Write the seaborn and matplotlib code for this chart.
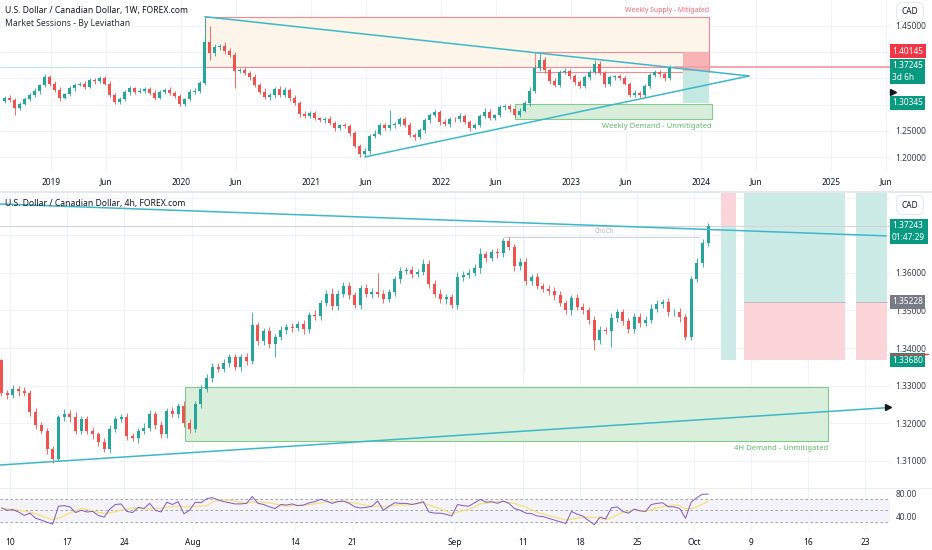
import numpy as np
import pandas as pd
import seaborn as sns
import matplotlib
matplotlib.use("Agg")
import matplotlib.pyplot as plt
import matplotlib.transforms as mtransforms
from matplotlib.patches import Rectangle

# ---------------- data ----------------
# weekly panel: one candle per two weeks, first candle mid Aug 2018 (x in years)
w_first = 2018.645
w_open0 = 1.307
w_close = [1.313, 1.309, 1.294, 1.302, 1.311, 1.318, 1.326, 1.337, 1.352, 1.340,
           1.329, 1.313, 1.320, 1.331, 1.338, 1.340, 1.334, 1.347, 1.345, 1.350,
           1.340, 1.319, 1.306, 1.311, 1.324, 1.331, 1.325, 1.327, 1.330, 1.323,
           1.313, 1.325, 1.329, 1.322, 1.316, 1.302, 1.310, 1.325, 1.327, 1.341,
           1.420, 1.398, 1.410, 1.411, 1.403, 1.395, 1.365, 1.366, 1.360, 1.353,
           1.338, 1.325, 1.315, 1.318, 1.330, 1.319, 1.328, 1.313, 1.303, 1.282,
           1.279, 1.284, 1.274, 1.270, 1.273, 1.265, 1.256, 1.261, 1.259, 1.246,
           1.222, 1.207, 1.212, 1.240, 1.245, 1.261, 1.256, 1.262, 1.263, 1.272,
           1.262, 1.243, 1.238, 1.251, 1.270, 1.280, 1.286, 1.268, 1.263, 1.273,
           1.272, 1.279, 1.268, 1.256, 1.261, 1.279, 1.287, 1.275, 1.280, 1.295,
           1.297, 1.291, 1.281, 1.289, 1.303, 1.326, 1.370, 1.386, 1.366, 1.345,
           1.338, 1.362, 1.364, 1.354, 1.343, 1.335, 1.352, 1.363, 1.378, 1.361,
           1.340, 1.352, 1.354, 1.351, 1.340, 1.319, 1.323, 1.318, 1.335, 1.356,
           1.362, 1.358, 1.350, 1.3724]
# wick lengths above / below the body, in 0.001
w_up = [4, 5, 3, 4, 3, 4, 5, 3, 6, 4,
        5, 4, 3, 5, 4, 3, 5, 4, 3, 5,
        4, 6, 4, 3, 5, 4, 3, 5, 4, 3,
        5, 4, 3, 4, 5, 4, 3, 5, 4, 5,
        45, 30, 6, 5, 8, 5, 5, 4, 6, 4,
        5, 4, 6, 5, 4, 6, 5, 4, 5, 4,
        6, 4, 5, 3, 4, 5, 4, 3, 5, 4,
        4, 3, 5, 4, 6, 4, 5, 28, 4, 5,
        4, 5, 3, 4, 5, 4, 6, 4, 5, 4,
        3, 5, 4, 3, 5, 4, 6, 4, 3, 5,
        4, 5, 3, 4, 5, 8, 6, 12, 5, 4,
        5, 4, 6, 4, 5, 4, 5, 4, 8, 5,
        4, 5, 3, 5, 4, 3, 5, 4, 5, 4,
        5, 4, 5, 3]
w_dn = [4, 3, 13, 4, 3, 4, 3, 5, 4, 5,
        4, 5, 3, 4, 5, 3, 4, 3, 5, 4,
        3, 4, 5, 4, 3, 5, 4, 3, 4, 5,
        4, 3, 5, 4, 3, 5, 4, 3, 5, 4,
        3, 13, 6, 5, 6, 5, 33, 5, 4, 6,
        4, 5, 4, 6, 5, 4, 5, 6, 4, 5,
        4, 5, 4, 3, 5, 4, 6, 4, 3, 5,
        5, 6, 4, 5, 4, 3, 5, 4, 6, 4,
        5, 4, 5, 3, 4, 5, 4, 6, 4, 5,
        4, 5, 4, 6, 3, 4, 5, 4, 5, 3,
        5, 4, 5, 4, 3, 5, 4, 5, 6, 5,
        4, 5, 4, 5, 6, 4, 3, 5, 4, 5,
        6, 4, 5, 4, 3, 5, 4, 5, 3, 4,
        4, 5, 4, 3]

# 4h panel, drawn as half-day candles; x in trading days from Mon 10 Jul 2023
h_first = -0.75
h_open0 = 1.3368
h_close = [1.3280, 1.3275, 1.3290, 1.3285, 1.3280, 1.3230, 1.3195, 1.3180, 1.3130, 1.3105,
           1.3215, 1.3225, 1.3215, 1.3180, 1.3210, 1.3180, 1.3170, 1.3150, 1.3130, 1.3185,
           1.3212, 1.3215, 1.3165, 1.3160, 1.3180, 1.3188, 1.3225, 1.3195, 1.3170, 1.3232,
           1.3225, 1.3245, 1.3200, 1.3185, 1.3250, 1.3292, 1.3320, 1.3350, 1.3345, 1.3360,
           1.3375, 1.3350, 1.3375, 1.3365, 1.3460, 1.3418, 1.3445, 1.3410, 1.3430, 1.3448,
           1.3455, 1.3452, 1.3465, 1.3450, 1.3488, 1.3485, 1.3520, 1.3545, 1.3512, 1.3545,
           1.3565, 1.3540, 1.3515, 1.3560, 1.3545, 1.3550, 1.3545, 1.3530, 1.3550, 1.3583,
           1.3605, 1.3608, 1.3598, 1.3602, 1.3625, 1.3570, 1.3545, 1.3530, 1.3535, 1.3515,
           1.3590, 1.3595, 1.3600, 1.3612, 1.3650, 1.3640, 1.3655, 1.3652, 1.3685, 1.3670,
           1.3618, 1.3630, 1.3578, 1.3588, 1.3565, 1.3558, 1.3552, 1.3540, 1.3520, 1.3500,
           1.3532, 1.3510, 1.3500, 1.3475, 1.3420, 1.3448, 1.3445, 1.3480, 1.3495, 1.3472,
           1.3450, 1.3482, 1.3467, 1.3475, 1.3505, 1.3518, 1.3522, 1.3495, 1.3497, 1.3482,
           1.3430, 1.3585, 1.3627, 1.3680, 1.3724]
# wick lengths in pips
h_up = [2, 8, 12, 9, 10, 7, 11, 9, 8, 10,
        6, 12, 9, 14, 8, 10, 9, 7, 11, 9,
        8, 10, 12, 9, 8, 11, 9, 7, 10, 8,
        12, 9, 14, 10, 8, 9, 11, 10, 9, 12,
        8, 10, 9, 11, 36, 10, 9, 12, 8, 10,
        9, 11, 8, 10, 9, 12, 8, 10, 14, 9,
        10, 12, 9, 8, 11, 10, 50, 9, 8, 10,
        12, 9, 10, 8, 11, 9, 10, 12, 9, 8,
        13, 9, 10, 11, 17, 9, 10, 12, 9, 10,
        8, 11, 9, 10, 12, 8, 9, 10, 11, 9,
        10, 12, 9, 8, 10, 11, 9, 12, 10, 9,
        8, 11, 10, 9, 12, 10, 9, 11, 8, 10,
        9, 8, 12, 10, 9]
h_dn = [9, 10, 8, 12, 9, 11, 10, 9, 12, 12,
        5, 9, 11, 8, 10, 9, 12, 10, 7, 9,
        10, 8, 11, 9, 12, 10, 8, 11, 9, 10,
        9, 11, 10, 12, 8, 10, 9, 11, 10, 8,
        10, 9, 12, 10, 8, 11, 9, 10, 34, 9,
        11, 10, 8, 12, 9, 10, 11, 9, 10, 12,
        8, 10, 9, 11, 10, 12, 9, 10, 8, 11,
        10, 9, 12, 10, 8, 11, 9, 10, 12, 9,
        10, 11, 9, 8, 12, 10, 9, 11, 10, 8,
        12, 9, 10, 11, 9, 8, 10, 12, 9, 10,
        11, 9, 10, 12, 25, 10, 9, 42, 10, 11,
        9, 10, 12, 9, 8, 10, 11, 9, 10, 12,
        10, 9, 8, 10, 9]
rsi = [54, 50, 51, 47, 41, 45, 36, 33, 29, 26,
       57, 58, 56, 46, 50, 47, 48, 41, 38, 52,
       60, 61, 48, 46, 55, 53, 62, 50, 47, 64,
       60, 65, 44, 50, 64, 63, 70, 72, 68, 65,
       63, 61, 61, 62, 74, 62, 60, 56, 53, 60,
       59, 61, 58, 59, 63, 65, 69, 66, 62, 65,
       66, 62, 56, 54, 55, 57, 66, 50, 57, 63,
       62, 62, 60, 62, 65, 47, 45, 45, 43, 40,
       60, 58, 57, 63, 69, 64, 65, 62, 66, 62,
       53, 50, 45, 44, 40, 39, 36, 33, 30, 27,
       48, 43, 40, 32, 25, 38, 35, 54, 56, 48,
       45, 52, 49, 48, 60, 62, 63, 56, 56, 53,
       36, 64, 72, 78, 78]

top_ticks = [2019, 2019.42, 2020, 2020.42, 2021, 2021.42, 2022, 2022.42,
             2023, 2023.42, 2024, 2024.42, 2025, 2025.42]
top_labels = ["2019", "Jun", "2020", "Jun", "2021", "Jun", "2022", "Jun",
              "2023", "Jun", "2024", "Jun", "2025", "Jun"]
bot_ticks = [0, 5, 10, 16, 25, 30, 39, 45, 50, 55, 60, 65, 70, 75]
bot_labels = ["10", "17", "24", "Aug", "14", "21", "Sep", "11", "18", "25",
              "Oct", "9", "16", "23"]
bold_labels = {"2019", "2020", "2021", "2022", "2023", "2024", "2025", "Aug", "Sep", "Oct"}

# ---------------- style ----------------
GREEN = "#26a69a"
RED = "#ef5350"
TAG_GREEN = "#089981"
TAG_RED = "#f23645"
CYAN = "#3db8c9"
TXT = "#131722"
GRID = "#f0f3fa"
FS = 6

sns.set_theme(style="white")
plt.rcParams["font.family"] = ["Noto Sans", "DejaVu Sans"]
plt.rcParams["font.size"] = FS

W, H = 932, 550
fig = plt.figure(figsize=(W / 100, H / 100), dpi=100)


def px_axes(left, top, right, bottom):
    ax = fig.add_axes([left / W, 1 - bottom / H, (right - left) / W, (bottom - top) / H])
    for s in ax.spines.values():
        s.set_visible(False)
    ax.set_facecolor("none")
    return ax


def candles(ax, x, close, up, dn, open0, scale, width, min_body):
    close = np.asarray(close)
    opens = np.concatenate([[open0], close[:-1]])
    hi = np.maximum(opens, close) + np.asarray(up) * scale
    lo = np.minimum(opens, close) - np.asarray(dn) * scale
    col = np.where(close >= opens, GREEN, RED)
    ax.vlines(x, lo, hi, colors=col, linewidth=0.6, zorder=3)
    body = np.maximum(np.abs(close - opens), min_body)
    ax.bar(x, body, width=width, bottom=np.minimum(opens, close), color=col,
           linewidth=0, zorder=4)


def price_tag(ax, y, s, fc, dy=0):
    tr = mtransforms.offset_copy(ax.get_yaxis_transform(), fig=fig, x=2, y=dy, units="dots")
    ax.text(1.0, y, s, transform=tr, ha="left", va="center", fontsize=FS, color="white",
            linespacing=1.35, clip_on=False, zorder=10,
            bbox=dict(boxstyle="square,pad=0.3", fc=fc, ec="none"))


def price_axis(ax, ticks, labels):
    ax.yaxis.tick_right()
    ax.set_yticks(ticks)
    ax.set_yticklabels(labels, color="#3b3f4a", fontsize=FS)
    ax.tick_params(axis="y", length=0, pad=4)


def date_axis(ax, ticks, labels):
    ax.set_xticks(ticks)
    ax.set_xticklabels(labels, color=TXT, fontsize=FS)
    for t in ax.get_xticklabels():
        if t.get_text() in bold_labels:
            t.set_fontweight("bold")
    ax.tick_params(axis="x", length=0, pad=4)


# ---------------- weekly panel ----------------
ax_top = px_axes(0, 0, 890, 172)
ax_top.set_xlim(2018.608, 2025.454)
ax_top.set_ylim(1.1719, 1.4995)
for lvl in [1.20, 1.25, 1.30, 1.35, 1.40, 1.45]:
    ax_top.axhline(lvl, color=GRID, lw=0.8, zorder=0)
for t in top_ticks:
    ax_top.axvline(t, color=GRID, lw=0.8, zorder=0)

wx = w_first + np.arange(len(w_close)) / 26
candles(ax_top, wx, w_close, w_up, w_dn, w_open0, 0.001, 0.55 / 26, 0.0012)

# zones
ax_top.add_patch(Rectangle((2020.185, 1.3727), 2024.062 - 2020.185, 1.467 - 1.3727,
                           fc="#fdf4ea", ec="#f28b96", lw=0.8, zorder=1))
ax_top.add_patch(Rectangle((2022.723, 1.363), 2024.062 - 2022.723, 1.401 - 1.363,
                           fc="none", ec="#f28b96", lw=0.8, zorder=2))
ax_top.add_patch(Rectangle((2023.862, 1.365), 0.2, 1.401 - 1.365,
                           fc="#f8b4b4", ec="none", zorder=2))
ax_top.add_patch(Rectangle((2023.862, 1.30345), 0.2, 1.365 - 1.30345,
                           fc="#c4e8e2", ec="none", zorder=2))
ax_top.add_patch(Rectangle((2022.569, 1.2729), 2024.085 - 2022.569, 1.3012 - 1.2729,
                           fc="#d8eedb", ec="#86c98a", lw=0.8, zorder=1))
ax_top.text(2024.062, 1.4786, "Weekly Supply - Mitigated", color="#f06b7a", fontsize=5,
            ha="right", va="center")
ax_top.text(2024.085, 1.2595, "Weekly Demand - Unmitigated", color="#66bb6a", fontsize=5.5,
            ha="right", va="center")

# triangle and price lines
ax_top.plot([2018.608, 2020.185], [1.3727, 1.3727], color="#a8e0e8", lw=0.6, zorder=2)
ax_top.plot([2020.185, 2024.37], [1.4677, 1.3548], color=CYAN, lw=1.1, zorder=5)
ax_top.plot([2021.415, 2024.37], [1.2005, 1.3548], color=CYAN, lw=1.1, zorder=5)
ax_top.plot([2023.792, 2025.454], [1.37245, 1.37245], color="#f4a3ab", lw=1.4, zorder=2)
ax_top.plot([2025.477], [1.3243], marker=">", color=TXT, ms=4, clip_on=False, zorder=10)

price_axis(ax_top, [1.20, 1.25, 1.45], ["1.20000", "1.25000", "1.45000"])
date_axis(ax_top, top_ticks, top_labels)
price_tag(ax_top, 1.40145, "1.40145", TAG_RED)
price_tag(ax_top, 1.37245, "1.37245\n3d 6h", TAG_GREEN, dy=-5)
price_tag(ax_top, 1.30345, "1.30345", TAG_GREEN)

# ---------------- 4h panel ----------------
ax_bot = px_axes(0, 193, 890, 488)
ax_bot.set_xlim(-0.877, 77.19)
ax_bot.set_ylim(1.30267, 1.38133)
for lvl in np.arange(1.31, 1.381, 0.01):
    ax_bot.axhline(lvl, color=GRID, lw=0.8, zorder=0)
for t in bot_ticks:
    ax_bot.axvline(t, color=GRID, lw=0.8, zorder=0)

hx = h_first + 0.5 * np.arange(len(h_close))
candles(ax_bot, hx, h_close, h_up, h_dn, h_open0, 0.0001, 0.26, 0.00015)

ax_bot.add_patch(Rectangle((15.35, 1.3152), 71.75 - 15.35, 1.3297 - 1.3152,
                           fc="#d9efdb", ec="#86c98a", lw=0.8, zorder=1))
ax_bot.text(71.75, 1.3133, "4H Demand - Unmitigated", color="#66bb6a", fontsize=5.5,
            ha="right", va="center")
top_b = 1.38133
ax_bot.add_patch(Rectangle((62.37, 1.37243), 1.31, top_b - 1.37243, fc="#fbd5da", ec="none", zorder=1))
ax_bot.add_patch(Rectangle((62.37, 1.3368), 1.31, 1.37243 - 1.3368, fc="#cdebe6", ec="none", zorder=1))
for x0, x1 in [(64.39, 73.25), (74.21, 76.93)]:
    ax_bot.add_patch(Rectangle((x0, 1.35228), x1 - x0, top_b - 1.35228, fc="#cdebe6", ec="none", zorder=1))
    ax_bot.add_patch(Rectangle((x0, 1.3368), x1 - x0, 1.35228 - 1.3368, fc="#fbd5da", ec="none", zorder=1))
    ax_bot.plot([x0, x1], [1.35228, 1.35228], color="#b2b5be", lw=0.6, zorder=2)

ax_bot.axhline(1.37243, color="#d1d4dc", lw=0.8, zorder=2)
ax_bot.plot([43.33, 60.44], [1.3695, 1.3695], color="#d1d4dc", lw=0.8, zorder=2)
ax_bot.text(52.1, 1.3711, "ChoCh", color="#b2b5be", fontsize=4.5, ha="center", va="center")
ax_bot.plot([45.1, 45.1], [1.3335, 1.3688], color="#eceef2", lw=0.7, zorder=1)

ax_bot.plot([-0.877, 76.84], [1.3784, 1.3699], color=CYAN, lw=1.1, zorder=5)
ax_bot.plot([-0.877, 77.0], [1.3088, 1.3241], color=CYAN, lw=1.1, zorder=5)
ax_bot.plot([77.03], [1.3243], marker=">", color=TXT, ms=4, clip_on=False, zorder=10)

b_levels = [1.31, 1.32, 1.33, 1.34, 1.35, 1.36]
price_axis(ax_bot, b_levels, [f"{v:.5f}" for v in b_levels])
ax_bot.set_xticks([])
price_tag(ax_bot, 1.37243, "1.37243\n01:47:29", TAG_GREEN, dy=-5)
price_tag(ax_bot, 1.35228, "1.35228", "#787b86")
price_tag(ax_bot, 1.3368, "1.33680", TAG_GREEN)
ax_bot.plot([1.0, 1.043], [1.3384, 1.3384], transform=ax_bot.get_yaxis_transform(),
            color=TAG_RED, lw=1.0, clip_on=False, zorder=11)

# ---------------- RSI panel ----------------
ax_rsi = px_axes(0, 488, 890, 532)
ax_rsi.set_xlim(-0.877, 77.19)
ax_rsi.set_ylim(12.2, 88.7)
ax_rsi.axhspan(30, 70, color="#7e57c2", alpha=0.07, lw=0, zorder=0)
for lvl in [70, 50, 30]:
    ax_rsi.axhline(lvl, color="#9598a1", lw=0.6, ls=(0, (3, 3)), zorder=1)
for t in bot_ticks:
    ax_rsi.axvline(t, color=GRID, lw=0.8, zorder=0)

rsi_df = pd.DataFrame({"day": hx, "rsi": rsi})
rsi_df["ma"] = rsi_df["rsi"].rolling(5, min_periods=1).mean()
sns.lineplot(data=rsi_df, x="day", y="ma", ax=ax_rsi, color="#f5e17a", linewidth=0.9, zorder=2)
sns.lineplot(data=rsi_df, x="day", y="rsi", ax=ax_rsi, color="#7e57c2", linewidth=0.7, zorder=3)
ax_rsi.set_xlabel("")
ax_rsi.set_ylabel("")
price_axis(ax_rsi, [40, 80], ["40.00", "80.00"])
date_axis(ax_rsi, bot_ticks, bot_labels)

# ---------------- separators, titles ----------------
fig.add_artist(plt.Line2D([0, 1], [1 - 192 / H, 1 - 192 / H], color="#e0e3eb", lw=1.2))
fig.add_artist(plt.Line2D([0, 1], [1 - 488 / H, 1 - 488 / H], color="#eceef2", lw=0.8))

fig.text(5 / W, 1 - 11 / H, "U.S. Dollar / Canadian Dollar, 1W, FOREX.com", fontsize=6.2,
         fontweight="bold", color=TXT, va="center")
fig.text(5 / W, 1 - 23 / H, "Market Sessions - By Leviathan", fontsize=6.2, color="#2a2e39",
         va="center")
fig.text(5 / W, 1 - 204 / H, "U.S. Dollar / Canadian Dollar, 4h, FOREX.com", fontsize=6.2,
         fontweight="bold", color=TXT, va="center")
for py in [12, 205]:
    fig.text(910 / W, 1 - py / H, "CAD", fontsize=FS, color=TXT, ha="center", va="center",
             bbox=dict(boxstyle="round,pad=0.6", fc="white", ec="#e0e3eb", lw=0.6))

fig.savefig("out.png", dpi=100, facecolor="white")
